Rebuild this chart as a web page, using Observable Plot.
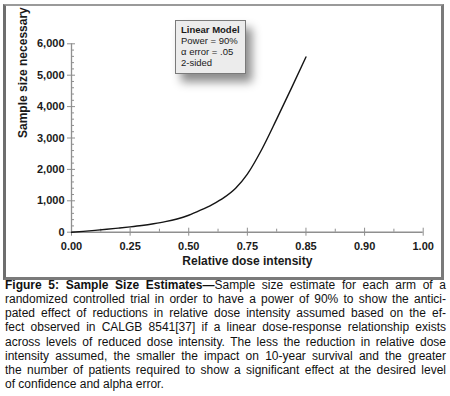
<!DOCTYPE html>
<html>
<head>
<meta charset="utf-8">
<script src="https://cdn.jsdelivr.net/npm/d3@7"></script>
<script src="https://cdn.jsdelivr.net/npm/@observablehq/plot@0.6"></script>
<style>
  html, body { margin: 0; padding: 0; background: #fff; }
  body { width: 450px; height: 396px; position: relative; overflow: hidden; font-family: "Liberation Sans", Arial, Helvetica, sans-serif; }
  #frame { position: absolute; left: 3px; top: 4px; width: 441px; height: 276px; box-sizing: border-box;
           border-top: 2px solid #9a9a9a; border-left: 3px solid #6e6e6e; border-right: 3px solid #7a7a7a; border-bottom: 3px solid #7a7a7a; }
  #chart { position: absolute; left: 0; top: 0; }
  #infobox { position: absolute; left: 175px; top: 20px; width: 71px; height: 54px; box-sizing: border-box;
             background: #ececec; border: 1px solid #7a7a7a; box-shadow: 6px 8px 9px rgba(0,0,0,0.45);
             font-size: 9.5px; line-height: 11.3px; color: #1a1a1a; padding: 2.5px 0 0 5px; }
  #infobox b { font-weight: bold; }
  #caption { position: absolute; left: 5px; top: 278px; width: 441px; font-size: 12px; line-height: 14.15px; color: #111; }
  #caption div { text-align: justify; text-align-last: justify; white-space: nowrap; }
  #caption div.last { text-align-last: left; }
</style>
</head>
<body>
<div id="frame"></div>
<div id="chart"></div>
<div id="infobox"></div>
<div id="caption"></div>
<script>
// ---- Data ----
const dose = [0, 0.05, 0.10, 0.15, 0.20, 0.25, 0.30, 0.35, 0.40, 0.45, 0.50, 0.55, 0.60, 0.65, 0.70, 0.75, 0.775, 0.80, 0.825, 0.85];
const sampleSize = [0, 27, 58, 92, 130, 170, 215, 270, 335, 420, 540, 700, 880, 1100, 1400, 1850, 2650, 3600, 4580, 5580];

const xTicks = [0, 0.25, 0.50, 0.75, 0.85, 0.90, 1.00];
const xTickLabels = ["0.00", "0.25", "0.50", "0.75", "0.85", "0.90", "1.00"];
const xMinorTicks = [0.125, 0.375, 0.625, 0.80, 0.875, 0.95];
const yTicks = [0, 1000, 2000, 3000, 4000, 5000, 6000];
const yMinorTicks = [200, 400, 600, 800, 1200, 1400, 1600, 1800, 2200, 2400, 2600, 2800, 3200, 3400, 3600, 3800, 4200, 4400, 4600, 4800, 5200, 5400, 5600, 5800];

const xLabel = "Relative dose intensity";
const yLabel = "Sample size necessary";
const boxTitle = "Linear Model";
const boxLines = ["Power = 90%", "α error = .05", "2-sided"];
const captionTitle = "Figure 5: Sample Size Estimates—";
const captionLines = [
  "Sample size estimate for each arm of a",
  "randomized controlled trial in order to have a power of 90% to show the antici-",
  "pated effect of reductions in relative dose intensity assumed based on the ef-",
  "fect observed in CALGB 8541[37] if a linear dose-response relationship exists",
  "across levels of reduced dose intensity. The less the reduction in relative dose",
  "intensity assumed, the smaller the impact on 10-year survival and the greater",
  "the number of patients required to show a significant effect at the desired level",
  "of confidence and alpha error."
];

// ---- Layout ----
const W = 450, H = 280;
const mL = 71, mR = 27.3, mT = 43.3, mB = 48.3;
const step = (W - mL - mR) / (xTicks.length - 1);
const xRange = xTicks.map((_, i) => mL + i * step);

const data = dose.map((d, i) => ({dose: d, n: sampleSize[i]}));
const axisColor = "#8f8f8f";
const textColor = "#1a1a1a";
const comma = d3.format(",");

const chart = Plot.plot({
  width: W,
  height: H,
  marginLeft: mL,
  marginRight: mR,
  marginTop: mT,
  marginBottom: mB,
  style: {fontFamily: "'Liberation Sans', Arial, Helvetica, sans-serif", background: "transparent", overflow: "visible"},
  x: {type: "linear", domain: xTicks, range: xRange, axis: null},
  y: {domain: [0, 6000], axis: null},
  marks: [
    Plot.ruleX([0], {stroke: axisColor, strokeWidth: 1.3}),
    Plot.ruleY([0], {stroke: axisColor, strokeWidth: 1.6}),
    // y ticks
    Plot.axisY(yTicks, {tickSize: 8, insetLeft: 4, tickFormat: () => "", label: null, stroke: axisColor, strokeWidth: 1}),
    Plot.axisY(yMinorTicks, {tickSize: 3, insetLeft: 3, tickFormat: () => "", label: null, stroke: axisColor, strokeWidth: 1}),
    Plot.axisY(yTicks, {tickSize: 0, tickPadding: 7, tickFormat: comma, label: null, fontSize: 11, fontWeight: "bold", fill: textColor}),
    // x ticks
    Plot.axisX(xTicks, {tickSize: 8, insetBottom: 4, tickFormat: () => "", label: null, stroke: axisColor, strokeWidth: 1}),
    Plot.axisX(xMinorTicks, {tickSize: 3, insetBottom: 3, tickFormat: () => "", label: null, stroke: axisColor, strokeWidth: 1}),
    Plot.axisX(xTicks, {tickSize: 0, tickPadding: 10, tickFormat: d => xTickLabels[xTicks.indexOf(d)], label: null, fontSize: 11, fontWeight: "bold", fill: textColor}),
    // axis titles
    Plot.text([xLabel], {frameAnchor: "bottom", dy: 29, lineAnchor: "middle", fontSize: 12, fontWeight: "bold", fill: textColor}),
    Plot.text([yLabel], {frameAnchor: "left", dx: -48, rotate: -90, fontSize: 12, fontWeight: "bold", fill: textColor}),
    // curve
    Plot.line(data, {x: "dose", y: "n", curve: "monotone-x", stroke: "#151515", strokeWidth: 1.4})
  ]
});
document.getElementById("chart").appendChild(chart);

// info box
const box = document.getElementById("infobox");
box.innerHTML = `<b>${boxTitle}</b><br>` + boxLines.join("<br>");

// caption
const cap = document.getElementById("caption");
captionLines.forEach((line, i) => {
  const div = document.createElement("div");
  if (i === captionLines.length - 1) div.className = "last";
  if (i === 0) {
    const b = document.createElement("b");
    b.textContent = captionTitle;
    div.appendChild(b);
  }
  div.appendChild(document.createTextNode(line));
  cap.appendChild(div);
});
</script>
</body>
</html>
